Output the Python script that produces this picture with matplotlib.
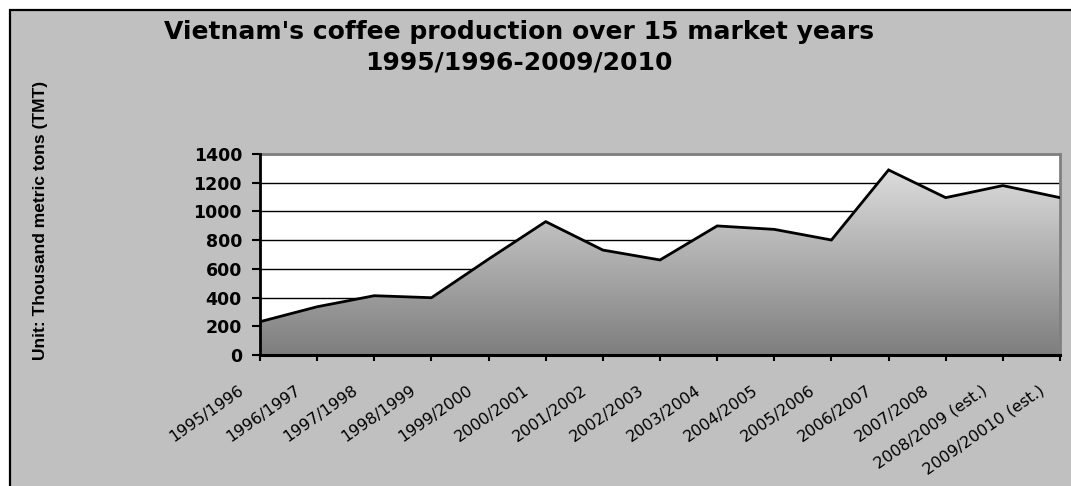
import numpy as np
import matplotlib
matplotlib.use("Agg")
import matplotlib.pyplot as plt
from matplotlib.patches import Rectangle
from matplotlib.colors import LinearSegmentedColormap
from matplotlib.transforms import ScaledTranslation

# data
years = ["1995/1996", "1996/1997", "1997/1998", "1998/1999", "1999/2000",
         "2000/2001", "2001/2002", "2002/2003", "2003/2004", "2004/2005",
         "2005/2006", "2006/2007", "2007/2008", "2008/2009 (est.)",
         "2009/20010 (est.)"]
production = [232, 336, 413, 399, 668, 929, 731, 662, 899, 875, 801,
              1289, 1096, 1180, 1096]
y_ticks = [0, 200, 400, 600, 800, 1000, 1200, 1400]

title = "Vietnam's coffee production over 15 market years\n1995/1996-2009/2010"
y_label = "Unit: Thousand metric tons (TMT)"

# -------------------------------
# figure + frame
# -------------------------------
fig = plt.figure(figsize=(10.71, 4.86), dpi=100)
fig.patch.set_facecolor("white")
fig.add_artist(Rectangle((10 / 1071, -0.02), 1.05, 1 - 10.5 / 486 + 0.02,
                         transform=fig.transFigure, facecolor="#c0c0c0",
                         edgecolor="black", linewidth=1.6, zorder=-10))

ax = fig.add_axes([260 / 1071, 131 / 486, 800 / 1071, 201 / 486])
ax.set_facecolor("white")

x = np.arange(len(years))

# area with vertical gradient
area = ax.fill_between(x, production, 0, facecolor="none", edgecolor="none")
grey_cmap = LinearSegmentedColormap.from_list("greys", ["#7e7e7e", "#dcdcdc"])
grad = np.linspace(0, 1, 256).reshape(-1, 1)
img = ax.imshow(grad, extent=[x[0], x[-1], 0, max(production)], origin="lower",
                aspect="auto", cmap=grey_cmap, zorder=2)
img.set_clip_path(area.get_paths()[0], transform=ax.transData)
ax.plot(x, production, color="black", linewidth=2, zorder=3,
        solid_joinstyle="miter")

ax.set_xlim(x[0], x[-1])
ax.set_ylim(0, 1400)

# gridlines
ax.set_yticks(y_ticks)
ax.yaxis.grid(True, color="black", linewidth=1)
ax.set_axisbelow(True)

# spines
ax.spines["left"].set_linewidth(2)
ax.spines["bottom"].set_linewidth(2.2)
ax.spines["left"].set_zorder(4)
ax.spines["bottom"].set_zorder(4)
for s in ["top", "right"]:
    ax.spines[s].set_color("#808080")
    ax.spines[s].set_linewidth(2)

# ticks
ax.tick_params(axis="y", length=6, width=1.5, pad=7, labelsize=12.5,
               direction="out", colors="black")
for lab in ax.get_yticklabels():
    lab.set_fontweight("bold")
    lab.set_family(["DejaVu Sans"])

ax.set_xticks(x)
ax.set_xticklabels(years, rotation=35, ha="right", va="top",
                   rotation_mode="anchor", fontsize=11.5,
                   family=["DejaVu Sans"])
ax.tick_params(axis="x", length=4, width=1.5, pad=0, direction="out")
offset = ScaledTranslation(-22 / 100, -22 / 100, fig.dpi_scale_trans)
for lab in ax.get_xticklabels():
    lab.set_transform(lab.get_transform() + offset)

# titles
fig.text(519 / 1071, 1 - 47 / 486, title, ha="center", va="center",
         fontsize=18, fontweight="bold", family=["DejaVu Sans"],
         linespacing=1.35)
fig.text(41 / 1071, 1 - 220 / 486, y_label, rotation=90, ha="center",
         va="center", fontsize=12.5, fontweight="bold",
         family=["Liberation Sans Narrow", "Liberation Sans", "DejaVu Sans"])

fig.savefig("out.png", dpi=100, facecolor=fig.get_facecolor())
